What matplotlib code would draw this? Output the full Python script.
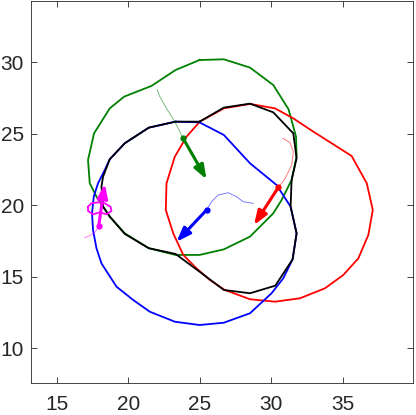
import numpy as np
import matplotlib
matplotlib.use('Agg')
import matplotlib.pyplot as plt

plt.rcParams['font.family'] = ['Liberation Sans', 'DejaVu Sans']

# orbit outlines
green_x = [24.99, 26.69, 28.52, 30.15, 31.22, 31.74, 31.78, 31.43, 30.73, 30.15, 28.52, 26.69, 24.99,
           23.31, 21.44, 19.76, 18.71, 17.78, 17.31, 17.19, 17.61, 18.71, 19.72, 21.63, 23.31, 24.99]
green_y = [30.16, 30.21, 29.63, 28.41, 26.71, 24.80, 23.40, 21.77, 20.37, 19.44, 17.81, 16.92, 16.53,
           16.53, 17.00, 18.04, 19.21, 20.61, 21.54, 23.17, 25.03, 26.78, 27.60, 28.35, 29.46, 30.16]

red_x = [28.52, 30.27, 31.55, 32.95, 34.23, 35.63, 36.69, 37.11, 36.80, 36.10, 35.05, 33.77, 32.02,
         30.27, 28.52, 26.76, 25.71, 24.78, 23.85, 23.15, 22.63, 22.68, 23.26, 24.08, 25.01, 26.69, 28.52]
red_y = [27.09, 26.78, 26.08, 25.15, 24.34, 23.45, 21.54, 19.67, 17.93, 16.29, 15.13, 14.20, 13.50,
         13.26, 13.43, 14.08, 14.78, 15.59, 16.53, 18.04, 19.67, 21.54, 23.40, 24.80, 25.85, 26.78, 27.09]

black_x = [24.99, 26.69, 28.52, 30.15, 31.55, 31.78, 31.43, 31.36, 31.78, 31.50, 30.29, 28.52, 26.69,
           24.99, 23.31, 21.44, 19.76, 18.71, 18.24, 18.13, 18.24, 18.71, 19.76, 21.44, 23.31, 24.99]
black_y = [25.85, 26.83, 27.11, 26.50, 25.03, 23.29, 21.77, 19.91, 18.04, 16.22, 14.38, 13.85, 14.08,
           15.36, 16.60, 17.00, 18.00, 19.21, 19.91, 21.31, 22.00, 23.22, 24.34, 25.43, 25.85, 25.85]

blue_x = [23.31, 24.99, 26.69, 28.52, 30.38, 31.36, 31.78, 31.50, 30.85, 30.03, 28.52, 26.69, 24.99,
          23.26, 21.51, 20.35, 19.18, 18.13, 17.78, 17.54, 17.47, 17.59, 17.89, 18.36, 18.71, 19.76,
          21.44, 23.31]
blue_y = [25.85, 25.80, 24.92, 22.94, 21.42, 19.91, 18.04, 16.22, 14.90, 13.85, 12.45, 11.79, 11.63,
          11.86, 12.56, 13.38, 14.31, 15.94, 17.00, 18.27, 19.44, 20.61, 21.54, 22.47, 23.22, 24.34,
          25.43, 25.85]

magenta_x = [17.19, 17.43, 17.89, 18.36, 18.76, 18.83, 18.48, 18.01, 17.54, 17.19, 17.19]
magenta_y = [19.90, 20.14, 20.21, 20.14, 19.90, 19.60, 19.37, 19.51, 19.37, 19.60, 19.90]

# thin trails
trail_green_x = [22.02, 22.21, 22.68, 23.26, 23.84]
trail_green_y = [28.11, 27.60, 26.78, 25.85, 24.69]
trail_red_x = [30.81, 31.32, 31.55, 31.44, 30.97, 30.50]
trail_red_y = [24.69, 24.39, 23.73, 22.82, 21.87, 21.25]
trail_blue_x = [28.75, 28.05, 27.58, 27.00, 26.30, 25.83, 25.48]
trail_blue_y = [20.14, 20.25, 20.60, 20.88, 20.72, 20.25, 19.67]
trail_mag_x = [16.96, 17.31, 17.66, 17.89, 17.94]
trail_mag_y = [17.74, 17.88, 18.11, 18.43, 18.58]

# arrows: start -> tip
arrow_start = {'g': (23.84, 24.69), 'r': (30.50, 21.25), 'b': (25.48, 19.67), 'm': (17.94, 18.58)}
arrow_end = {'g': (25.48, 21.82), 'r': (28.80, 18.62), 'b': (23.38, 17.45), 'm': (18.36, 21.50)}

green = '#008000'
magenta = '#ff00ff'
cols = {'g': green, 'r': '#ff0000', 'b': '#0000ff', 'm': magenta}

fig = plt.figure(figsize=(4.16, 4.15), dpi=100)
ax = fig.add_axes([0.0745, 0.078, 0.9175, 0.919])

ax.plot(green_x, green_y, color=green, lw=1.3)
ax.plot(red_x, red_y, color=cols['r'], lw=1.3)
ax.plot(blue_x, blue_y, color=cols['b'], lw=1.3)
ax.plot(black_x, black_y, color='k', lw=1.3)
ax.plot(magenta_x, magenta_y, color=magenta, lw=1.3)

ax.plot(trail_green_x, trail_green_y, color=green, lw=0.6, alpha=0.6)
ax.plot(trail_red_x, trail_red_y, color=cols['r'], lw=0.6, alpha=0.6)
ax.plot(trail_blue_x, trail_blue_y, color=cols['b'], lw=0.6, alpha=0.6)
ax.plot(trail_mag_x, trail_mag_y, color=magenta, lw=0.6, alpha=0.6)

for k in ['g', 'r', 'b', 'm']:
    x0, y0 = arrow_start[k]
    x1, y1 = arrow_end[k]
    ax.annotate('', xy=(x1, y1), xytext=(x0, y0),
                arrowprops=dict(arrowstyle='-|>,head_length=0.6,head_width=0.22', color=cols[k], lw=2.2,
                                mutation_scale=14, shrinkA=0, shrinkB=0))
    ax.plot(x0, y0, 'o', color=cols[k], ms=3.5)

ax.set_xlim(13.2, 39.9)
ax.set_ylim(7.6, 34.27)
ax.set_xticks([15, 20, 25, 30, 35])
ax.set_yticks([10, 15, 20, 25, 30])
ax.tick_params(direction='in', top=True, right=True, labelsize=15, colors='#262626',
               length=4, width=0.6)
ax.tick_params(axis='x', pad=9)
ax.tick_params(axis='y', pad=5)
for s in ax.spines.values():
    s.set_color('#262626')
    s.set_linewidth(0.6)

fig.savefig('out.png')
